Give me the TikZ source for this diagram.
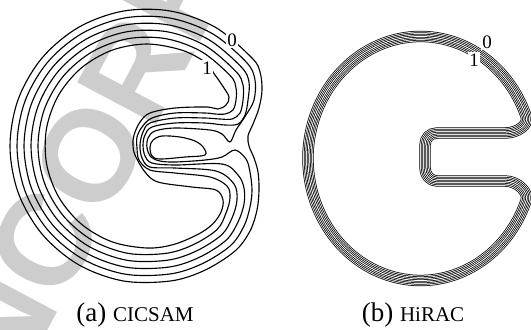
\documentclass[tikz,border=0pt]{standalone}
\usepackage{fontspec}
\setmainfont{Liberation Serif}
\newfontfamily\stampfont{Liberation Sans}
\definecolor{stampgray}{RGB}{205,205,205}
\tikzset{
  isoline/.style={line width=0.45pt,line join=round,line cap=round},
  levellabel/.style={font=\fontsize{7.6}{8}\selectfont,fill=white,inner sep=0.5pt},
  subcaption/.style={font=\fontsize{10.8}{12}\selectfont,anchor=base},
}
\newcommand{\scheme}[1]{{\fontsize{8.4}{10}\selectfont #1}}
% centre line of the HiRAC band: disc with a slot from the right
\newcommand{\hiracloop}{(505,133) -- (437,133)
  .. controls (430,133) and (425,138) .. (425,145) -- (425,168)
  .. controls (425,175) and (430,181) .. (437,181) -- (505,181)
  .. controls (518,181) and (528.8,192.6) .. (526.2,200.2)
  arc[start angle=20,end angle=340,x radius=112.5,y radius=122]
  .. controls (528.8,124.4) and (518,133) .. cycle}

\begin{document}
\begin{tikzpicture}[x=0.4pt,y=-0.4pt]
\useasboundingbox (0,0) rectangle (531,329);
% proof stamp behind the left panel
\node[stampgray,font=\stampfont\bfseries\fontsize{52}{52}\selectfont,
  rotate=62,anchor=base west] (stamp) at (-31,478) {UNCORRECTED PROOF};
% (a) CICSAM: six level lines and the pocket left in the slot
\begin{scope}[shift={(147,146)},isoline]
\draw plot[smooth cycle,tension=0.55] coordinates {(-40:137) (-60:137) (-80:137)
  (-100:137) (-120:137) (-140:137) (-160:137) (-180:137) (-200:137) (-220:137)
  (-240:137) (-260:137) (-280:137) (-295:137) (-310:137) (103,85) (110,64) (112,44)
  (111,26) (107,12) (102,0) (101,-10) (106,-22) (112,-38) (115,-56) (113,-74)};
\draw plot[smooth cycle,tension=0.55] coordinates {(-40:130) (-60:130) (-80:130)
  (-100:130) (-120:130) (-140:130) (-160:130) (-180:130) (-200:130) (-220:130)
  (-240:130) (-260:130) (-280:130) (-295:130) (-310:130) (97,80) (103,61) (105,44)
  (103,26) (99,13) (88,4) (75,11) (58,14) (28,16) (13,15) (4,11) (0,2) (1,-8)
  (8,-15) (28,-18) (63,-16) (75,-12) (83,-4) (89,-16) (99,-31) (107,-46) (108,-66)};
\draw plot[smooth cycle,tension=0.55] coordinates {(-40:123) (-60:123) (-80:123)
  (-100:123) (-120:123) (-140:123) (-160:123) (-180:123) (-200:123) (-220:123)
  (-240:123) (-260:123) (-280:123) (-295:123) (-310:123) (91,76) (97,58) (97,42)
  (91,29) (75,18) (28,19) (5,17) (-2,10) (-4,-1) (-2,-11) (5,-19) (28,-23)
  (58,-23) (78,-21) (91,-22) (98,-31) (101,-46) (102,-64)};
\draw plot[smooth cycle,tension=0.55] coordinates {(-40:116) (-60:116) (-80:116)
  (-100:116) (-120:116) (-140:116) (-160:116) (-180:116) (-200:116) (-220:116)
  (-240:116) (-260:116) (-280:116) (-295:116) (-310:116) (85,72) (90,54) (87,38)
  (69,25) (28,22) (3,21) (-5,12) (-7,-1) (-4,-14) (3,-23) (28,-28) (58,-28)
  (73,-27) (85,-27) (93,-33) (96,-46) (96,-61)};
\draw plot[smooth cycle,tension=0.55] coordinates {(-40:109) (-60:109) (-80:109)
  (-100:109) (-120:109) (-140:109) (-160:109) (-180:109) (-200:109) (-220:109)
  (-240:109) (-260:109) (-280:109) (-295:109) (-310:109) (79,67) (83,52) (80,40)
  (63,31) (28,27) (3,24) (-8,14) (-10,2) (-10,-9) (-5,-19) (5,-28) (28,-33)
  (58,-33) (68,-32) (78,-32) (86,-36) (89,-46) (89,-58)};
\draw plot[smooth cycle,tension=0.55] coordinates {(-55:102) (-70:102) (-90:102)
  (-110:102) (-130:102) (-150:102) (-170:102) (-190:102) (-210:102) (-230:102)
  (-250:102) (-270:102) (-285:102) (-300:102) (-310:102) (74,66) (76,54) (69,44)
  (45,41) (11,36) (-2,26) (-12,9) (-14,-1) (-13,-11) (-7,-24) (3,-33) (28,-38)
  (60,-39) (71,-37) (79,-41) (82,-49) (75,-61) (68,-71)};
\draw plot[smooth cycle,tension=0.55] coordinates {(3,1) (6,-6) (15,-10) (33,-9)
  (48,-5) (56,1) (58,9) (38,11) (13,13) (5,10)};
\end{scope}
\node[levellabel] (zeroa) at (232,40) {0};
\node[levellabel] (onea) at (207,68) {1};
% (b) HiRAC: tight bundle of level lines round one centre line
\foreach \w/\c in {4.54/black,3.94/white,3.34/black,2.74/white,
  2.14/black,1.54/white,0.94/black,0.34/white}
  \draw[line width=\w pt,\c,line join=round] \hiracloop;
\node[levellabel] (zerob) at (487,42) {0};
\node[levellabel] (oneb) at (474,60) {1};
% captions
\node[subcaption] (capa) at (135,321.5) {(a) \scheme{CICSAM}};
\node[subcaption] (capb) at (413,321.5) {(b) \scheme{HiRAC}};
\end{tikzpicture}
\end{document}
